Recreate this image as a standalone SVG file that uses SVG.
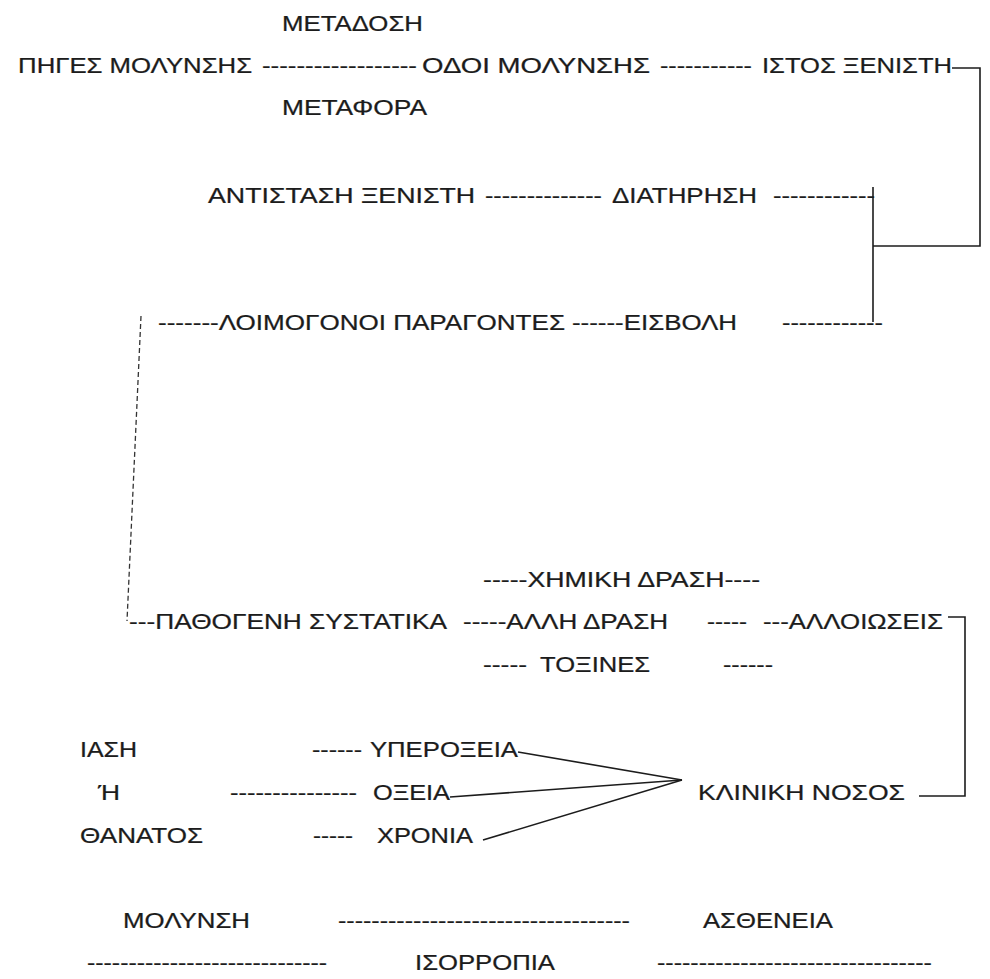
<svg xmlns="http://www.w3.org/2000/svg" width="990" height="979" viewBox="0 0 990 979">
<style>
  text { font-family: "Liberation Sans", Arial, sans-serif; font-size: 22px; fill: #1c1c1c; stroke: #1c1c1c; stroke-width: 0.25; }
  .ln { stroke: #1c1c1c; stroke-width: 1.6; fill: none; }
  .dl { stroke: #333; stroke-width: 1.3; fill: none; stroke-dasharray: 5 3; }
</style>
<rect width="990" height="979" fill="#ffffff"/>
<g id="connectors">
  <polyline class="ln" points="952,68 980,68 980,246 873,246"/>
  <line class="ln" x1="873" y1="187" x2="873" y2="322"/>
  <line class="dl" x1="141" y1="316" x2="127" y2="621"/>
  <polyline class="ln" points="948,617 965,617 965,796 919,796"/>
  <line class="ln" x1="518" y1="752" x2="682" y2="780"/>
  <line class="ln" x1="450" y1="797" x2="682" y2="780"/>
  <line class="ln" x1="483" y1="840" x2="682" y2="780"/>
</g>
<g id="labels" transform="scale(1.15,1)">
<g id="metadosi"><text x="245.2" y="31" textLength="122.6" lengthAdjust="spacingAndGlyphs">ΜΕΤΑΔΟΣΗ</text></g>
<g id="piges"><text x="15.7" y="73" textLength="203.5" lengthAdjust="spacingAndGlyphs">ΠΗΓΕΣ ΜΟΛΥΝΣΗΣ</text>
  <text x="227.8" y="73" textLength="134.8" lengthAdjust="spacingAndGlyphs">------------------</text></g>
<g id="odoi"><text x="367" y="73" textLength="198.3" lengthAdjust="spacingAndGlyphs">ΟΔΟΙ ΜΟΛΥΝΣΗΣ</text>
  <text x="573.9" y="73" textLength="80" lengthAdjust="spacingAndGlyphs">-----------</text></g>
<g id="istos"><text x="662.6" y="73" textLength="165.2" lengthAdjust="spacingAndGlyphs">ΙΣΤΟΣ ΞΕΝΙΣΤΗ</text></g>
<g id="metafora"><text x="245.2" y="115" textLength="126.1" lengthAdjust="spacingAndGlyphs">ΜΕΤΑΦΟΡΑ</text></g>
<g id="antistasi"><text x="180.9" y="203" textLength="232.2" lengthAdjust="spacingAndGlyphs">ΑΝΤΙΣΤΑΣΗ  ΞΕΝΙΣΤΗ</text>
  <text x="421.7" y="203" textLength="101.7" lengthAdjust="spacingAndGlyphs">--------------</text></g>
<g id="diatirisi"><text x="532.2" y="203" textLength="126.1" lengthAdjust="spacingAndGlyphs">ΔΙΑΤΗΡΗΣΗ</text>
  <text x="672.2" y="203" textLength="88.7" lengthAdjust="spacingAndGlyphs">------------</text></g>
<g id="loimogonoi"><text x="137.4" y="330" textLength="353.9" lengthAdjust="spacingAndGlyphs">-------ΛΟΙΜΟΓΟΝΟΙ ΠΑΡΑΓΟΝΤΕΣ</text></g>
<g id="eisvoli"><text x="497.4" y="330" textLength="143.5" lengthAdjust="spacingAndGlyphs">------ΕΙΣΒΟΛΗ</text>
  <text x="680" y="330" textLength="87.8" lengthAdjust="spacingAndGlyphs">------------</text></g>
<g id="ximiki"><text x="420" y="587" textLength="240.9" lengthAdjust="spacingAndGlyphs">-----ΧΗΜΙΚΗ  ΔΡΑΣΗ----</text></g>
<g id="pathogeni"><text x="112.2" y="629" textLength="276.5" lengthAdjust="spacingAndGlyphs">---ΠΑΘΟΓΕΝΗ ΣΥΣΤΑΤΙΚΑ</text></g>
<g id="alli"><text x="402.6" y="629" textLength="178.3" lengthAdjust="spacingAndGlyphs">-----ΑΛΛΗ ΔΡΑΣΗ</text>
  <text x="614.8" y="629" textLength="34.8" lengthAdjust="spacingAndGlyphs">-----</text></g>
<g id="alloioseis"><text x="663.5" y="629" textLength="156.5" lengthAdjust="spacingAndGlyphs">---ΑΛΛΟΙΩΣΕΙΣ</text></g>
<g id="toxines"><text x="420" y="672" textLength="38.3" lengthAdjust="spacingAndGlyphs">-----</text>
  <text x="469.6" y="672" textLength="95.7" lengthAdjust="spacingAndGlyphs">ΤΟΞΙΝΕΣ</text>
  <text x="628.7" y="672" textLength="43.5" lengthAdjust="spacingAndGlyphs">------</text></g>
<g id="iasi"><text x="69.6" y="757" textLength="49.6" lengthAdjust="spacingAndGlyphs">ΙΑΣΗ</text></g>
<g id="i"><text x="85.2" y="800" textLength="19.1" lengthAdjust="spacingAndGlyphs">Ή</text></g>
<g id="thanatos"><text x="69.6" y="843" textLength="107" lengthAdjust="spacingAndGlyphs">ΘΑΝΑΤΟΣ</text></g>
<g id="yperoxeia"><text x="271.3" y="757" textLength="43.5" lengthAdjust="spacingAndGlyphs">------</text>
  <text x="321.7" y="757" textLength="128.7" lengthAdjust="spacingAndGlyphs">ΥΠΕΡΟΞΕΙΑ</text></g>
<g id="oxeia"><text x="200" y="800" textLength="110.4" lengthAdjust="spacingAndGlyphs">---------------</text>
  <text x="324.3" y="800" textLength="67" lengthAdjust="spacingAndGlyphs">ΟΞΕΙΑ</text></g>
<g id="xronia"><text x="272.2" y="843" textLength="34.8" lengthAdjust="spacingAndGlyphs">-----</text>
  <text x="327.8" y="843" textLength="83.5" lengthAdjust="spacingAndGlyphs">ΧΡΟΝΙΑ</text></g>
<g id="kliniki"><text x="607" y="800" textLength="180" lengthAdjust="spacingAndGlyphs">ΚΛΙΝΙΚΗ  ΝΟΣΟΣ</text></g>
<g id="molynsi"><text x="107" y="928" textLength="110.4" lengthAdjust="spacingAndGlyphs">ΜΟΛΥΝΣΗ</text>
  <text x="293.9" y="928" textLength="253.9" lengthAdjust="spacingAndGlyphs">-----------------------------------</text></g>
<g id="astheneia"><text x="611.3" y="928" textLength="113" lengthAdjust="spacingAndGlyphs">ΑΣΘΕΝΕΙΑ</text></g>
<g id="isorropia"><text x="75.7" y="970" textLength="208.7" lengthAdjust="spacingAndGlyphs">-----------------------------</text>
  <text x="360.9" y="970" textLength="121.7" lengthAdjust="spacingAndGlyphs">ΙΣΟΡΡΟΠΙΑ</text>
  <text x="571.3" y="970" textLength="239.1" lengthAdjust="spacingAndGlyphs">---------------------------------</text></g>
</g>
</svg>
